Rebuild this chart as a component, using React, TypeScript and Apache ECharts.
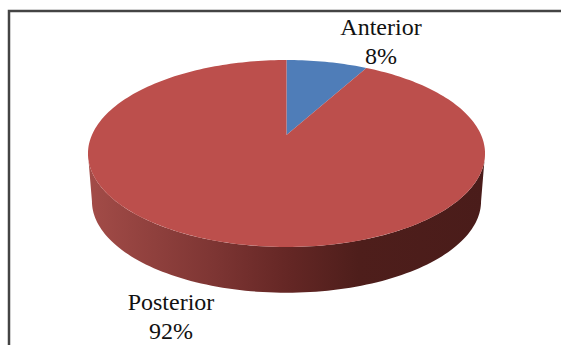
import React, { useEffect, useRef } from "react";
import * as echarts from "echarts";

const categories = ["Anterior", "Posterior"];
const shares = [8, 92];
const sliceColors = ["#4F7DB8", "#BC4F4C"];
const labelAnchors = [
  [381, 41],
  [171, 316],
];

// Perspective disc: a unit circle projected so that its centre sits above the ellipse middle.
const cx = 286.5;
const cy = 135;
const ax = 194.6;
const by = 89.8;
const k = 0.198;
const depthDrop = 48;
const depthScale = 0.98;

const project = (angle: number, lower = false) => {
  const u = Math.sin(angle);
  const v = -Math.cos(angle);
  const w = 1 - k * v;
  const x = (ax * u) / w;
  const y = (by * v) / w;
  return lower
    ? [cx + x * depthScale, cy + depthDrop + y * depthScale]
    : [cx + x, cy + y];
};

const arcPoints = (from: number, to: number, lower = false) => {
  const steps = Math.max(8, Math.ceil(Math.abs(to - from) * 40));
  const pts: number[][] = [];
  for (let i = 0; i <= steps; i++) pts.push(project(from + ((to - from) * i) / steps, lower));
  return pts;
};

const total = shares.reduce((a, b) => a + b, 0);

const renderItem = (params: any, api: any) => {
  const idx = params.dataIndex;
  const before = shares.slice(0, idx).reduce((a, b) => a + b, 0);
  const start = (before / total) * Math.PI * 2;
  const end = ((before + api.value(1)) / total) * Math.PI * 2;
  const children: any[] = [];

  if (idx === shares.length - 1) {
    // Outer wall of the disc, between the two points where the rim turns vertical.
    const turn = Math.asin(k);
    const rimFrom = Math.PI * 0.5 + turn;
    const rimTo = Math.PI * 1.5 - turn;
    const wall = [...arcPoints(rimFrom, rimTo), ...arcPoints(rimTo, rimFrom, true)];
    children.push({
      type: "polygon",
      shape: { points: wall },
      style: {
        fill: new echarts.graphic.LinearGradient(0, 0, 1, 0, [
          { offset: 0, color: "#A34C48" },
          { offset: 0.32, color: "#7D3533" },
          { offset: 0.5, color: "#652725" },
          { offset: 0.68, color: "#4E1E1B" },
          { offset: 1, color: "#4A1C1A" },
        ]),
      },
    });
  }

  const slice = [[cx, cy], ...arcPoints(start, end)];
  children.push({
    type: "polygon",
    z2: 2,
    shape: { points: slice },
    style: { fill: sliceColors[idx] },
  });
  children.push({
    type: "text",
    z2: 3,
    style: {
      x: labelAnchors[idx][0],
      y: labelAnchors[idx][1],
      text: `${categories[idx]}\n${api.value(1)}%`,
      fill: "#111",
      font: '24px "Liberation Serif"',
      lineHeight: 29,
      align: "center",
      verticalAlign: "middle",
    },
  });
  return { type: "group", children };
};

export default function App() {
  const ref = useRef<HTMLDivElement>(null);
  useEffect(() => {
    document.body.style.margin = "0";
    const chart = echarts.init(ref.current!, undefined, { renderer: "svg" });
    chart.setOption({
      animation: false,
      backgroundColor: "#fff",
      graphic: [
        {
          type: "polyline",
          shape: { points: [[9, 345], [9, 11], [561, 11]] },
          style: { stroke: "#444", lineWidth: 2.5, fill: "none" },
        },
      ],
      series: [
        {
          type: "custom",
          coordinateSystem: "none",
          renderItem,
          data: categories.map((c, i) => [c, shares[i]]),
          dimensions: ["name", "value"],
          silent: true,
        },
      ],
    });
    return () => chart.dispose();
  }, []);
  return <div ref={ref} style={{ width: 561, height: 345 }} />;
}
